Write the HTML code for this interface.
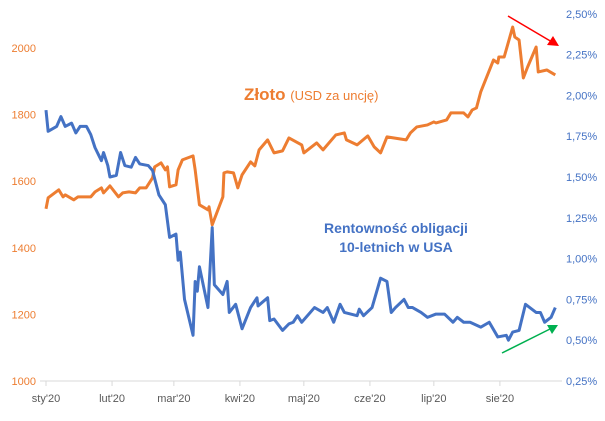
<!DOCTYPE html>
<html><head><meta charset="utf-8"><style>
body{margin:0;background:#fff;font-family:"Liberation Sans",sans-serif}
svg text{font-family:"Liberation Sans",sans-serif}
</style></head><body>
<svg id="chart" width="605" height="416" viewBox="0 0 605 416" xmlns="http://www.w3.org/2000/svg">
<g id="axes"></g>
<g id="series"></g>
<text x="244" y="100" fill="#ED7D31" font-size="17" font-weight="bold">Złoto <tspan font-size="13" font-weight="normal">(USD za uncję)</tspan></text>
<text x="396" y="233" fill="#4472C4" font-size="14" font-weight="bold" text-anchor="middle">Rentowność obligacji</text>
<text x="396" y="252" fill="#4472C4" font-size="14" font-weight="bold" text-anchor="middle">10-letnich w USA</text>
<g><line x1="508" y1="16" x2="552" y2="42" stroke="#FF0000" stroke-width="1.5"/><polygon points="559,46 547,45 553,36" fill="#FF0000"/></g>
<g><line x1="502" y1="353" x2="550" y2="329" stroke="#00B050" stroke-width="1.5"/><polygon points="558,325 547,325 552,334" fill="#00B050"/></g>
</svg>
<script>
const monthLabels=["sty'20","lut'20","mar'20","kwi'20","maj'20","cze'20","lip'20","sie'20"];
const monthDays=[0,31,60,91,121,152,182,213];
const leftTicks=[1000,1200,1400,1600,1800,2000];
const rightTicks=[0.25,0.5,0.75,1.0,1.25,1.5,1.75,2.0,2.25,2.5];
const goldDays=[0,1,6,8,9,13,15,21,23,26,27,30,34,36,39,42,44,47,50,51,54,56,57,58,61,62,64,69,70,72,76,76.5,78,83,83.5,85,88,90,92,96,98,100,104,107,111,114,120,121,127,130,136,140,141,146,151,154,157,160,163,169,171,174,179,182,183,188,190,196,198,200,202,204,210,212,212.5,215,219,220,222,224,226,230,231,235,239];
const goldValues=[1517,1550,1574,1553,1559,1544,1553,1553,1568,1580,1565,1586,1553,1565,1568,1565,1580,1580,1610,1643,1655,1634,1643,1583,1589,1634,1664,1676,1634,1529,1514,1523,1469,1553,1625,1628,1625,1580,1619,1658,1646,1694,1724,1685,1691,1730,1709,1685,1715,1694,1739,1745,1724,1709,1736,1703,1685,1733,1730,1724,1745,1763,1769,1778,1775,1784,1805,1805,1793,1814,1820,1868,1964,1955,1973,1973,2063,2033,2024,1910,1943,2003,1928,1934,1919];
const yieldDays=[0,1,5,7,9,12,14,16,19,21,23,26,27,29,30,33,35,37,40,42,44,48,50,53,56,58,61,62,63,65,69,70,71,72,76,78,79,83,85,86,89,92,96,99,99.5,104,105,107,111,114,116,118,120,126,130,132,135,138,140,146,147,149,153,157,160,162,164,168,170,172,176,179,183,187,191,193,196,199,204,208,212,216,217,219,222,225,230,232,234,237,239];
const yieldValues=[1.91,1.78,1.81,1.87,1.81,1.83,1.77,1.81,1.81,1.76,1.68,1.60,1.65,1.57,1.50,1.51,1.65,1.57,1.56,1.62,1.58,1.57,1.54,1.39,1.33,1.13,1.15,0.99,1.04,0.75,0.53,0.86,0.80,0.95,0.70,1.19,0.84,0.78,0.86,0.67,0.72,0.57,0.70,0.76,0.71,0.76,0.62,0.63,0.56,0.60,0.61,0.65,0.61,0.70,0.67,0.70,0.61,0.72,0.67,0.65,0.69,0.65,0.70,0.88,0.86,0.67,0.70,0.75,0.70,0.70,0.67,0.64,0.66,0.66,0.61,0.64,0.61,0.61,0.58,0.61,0.52,0.53,0.50,0.55,0.56,0.72,0.67,0.67,0.61,0.64,0.70];

const NS="http://www.w3.org/2000/svg";
const xS=d=>46+d*2.131;
const yL=v=>381-(v-1000)*0.333;
const yR=v=>381-(v-0.25)*163.2;
function mk(tag,attrs,parent){const e=document.createElementNS(NS,tag);for(const k in attrs)e.setAttribute(k,attrs[k]);parent.appendChild(e);return e;}
const axes=document.getElementById('axes'),series=document.getElementById('series');
const base=mk('line',{x1:40,y1:381,x2:562,y2:381,stroke:'#D9D9D9','stroke-width':1},axes);


monthDays.forEach((d,i)=>{
  const tk=mk('line',{x1:xS(d),y1:381,x2:xS(d),y2:386,stroke:'#D9D9D9'},axes);
  
  
  const t=mk('text',{x:xS(d),y:402,'font-size':11,fill:'#595959','text-anchor':'middle'},axes);
  t.textContent=monthLabels[i];
  
  
});
leftTicks.forEach(v=>{
  const t=mk('text',{x:36,y:yL(v)+4,'font-size':11,fill:'#ED7D31','text-anchor':'end'},axes);
  t.textContent=v;
  
  
});
rightTicks.forEach(v=>{
  const t=mk('text',{x:566,y:yR(v)+4,'font-size':11,fill:'#4472C4'},axes);
  t.textContent=v.toFixed(2).replace('.',',')+'%';
  
  
});
const gp=mk('polyline',{points:goldDays.map((d,i)=>xS(d)+','+yL(goldValues[i])).join(' '),fill:'none',stroke:'#ED7D31','stroke-width':3,'stroke-linejoin':'round'},series);


const yp=mk('polyline',{points:yieldDays.map((d,i)=>xS(d)+','+yR(yieldValues[i])).join(' '),fill:'none',stroke:'#4472C4','stroke-width':3,'stroke-linejoin':'round'},series);


</script>
</body></html>
